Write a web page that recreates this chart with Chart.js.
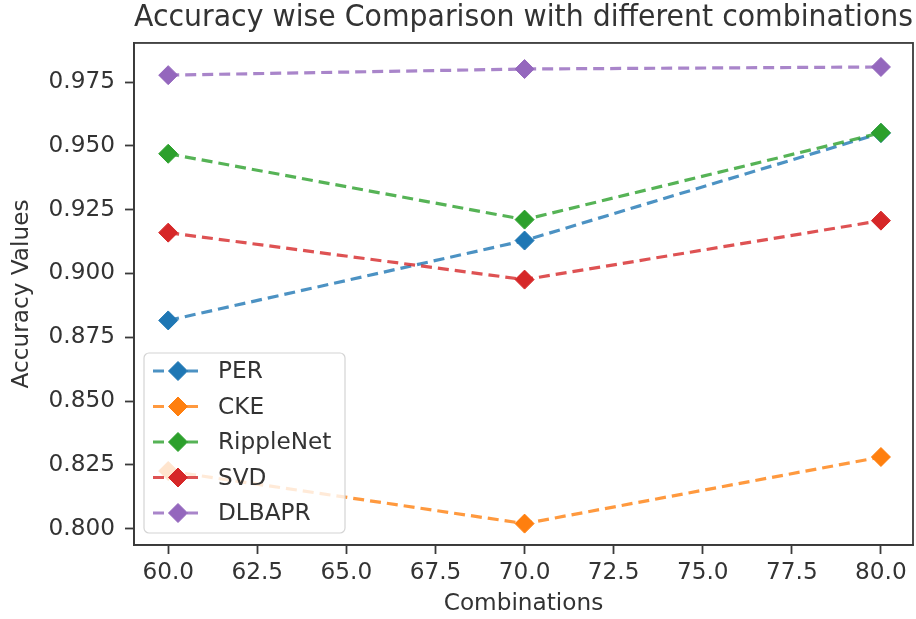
<!DOCTYPE html>
<html>
<head>
<meta charset="utf-8">
<script src="https://cdn.jsdelivr.net/npm/chart.js@4"></script>
<style>
  html, body { margin: 0; padding: 0; background: #ffffff; }
  #wrap { width: 916px; height: 619px; }
</style>
</head>
<body>
<div id="wrap"><canvas id="c" width="916" height="619"></canvas></div>
<script>
// ---- data ----
const titleText = 'Accuracy wise Comparison with different combinations';
const xAxisLabel = 'Combinations';
const yAxisLabel = 'Accuracy Values';
const xValues = [60, 70, 80];
const seriesNames = ['PER', 'CKE', 'RippleNet', 'SVD', 'DLBAPR'];
const perValues = [0.8816, 0.9129, 0.9550];
const ckeValues = [0.8226, 0.8020, 0.8281];
const rippleNetValues = [0.9469, 0.9211, 0.9551];
const svdValues = [0.9160, 0.8976, 0.9207];
const dlbaprValues = [0.9777, 0.9801, 0.9809];
const xTicks = [60, 62.5, 65, 67.5, 70, 72.5, 75, 77.5, 80];
const yTicks = [0.800, 0.825, 0.850, 0.875, 0.900, 0.925, 0.950, 0.975];

const seriesValues = [perValues, ckeValues, rippleNetValues, svdValues, dlbaprValues];
const seriesColors = ['#1f77b4', '#ff7f0e', '#2ca02c', '#d62728', '#9467bd'];

function withAlpha(hex, a) {
  const r = parseInt(hex.slice(1, 3), 16), g = parseInt(hex.slice(3, 5), 16), b = parseInt(hex.slice(5, 7), 16);
  return `rgba(${r},${g},${b},${a})`;
}

const FONT = "'DejaVu Sans', 'Liberation Sans', sans-serif";
const FS = 23.2;
const TEXT = '#333333';
const SPINE = '#3a3a3a';

const datasets = seriesNames.map((name, i) => ({
  label: name,
  data: xValues.map((x, j) => ({ x: x, y: seriesValues[i][j] })),
  borderColor: withAlpha(seriesColors[i], 0.8),
  backgroundColor: seriesColors[i],
  pointBackgroundColor: seriesColors[i],
  pointBorderColor: seriesColors[i],
  pointBorderWidth: 1,
  pointStyle: 'rectRot',
  pointRadius: 9.5,
  borderWidth: 3.2,
  borderDash: [11, 6],
  borderCapStyle: 'butt',
  tension: 0,
  fill: false,
  clip: 20,
  order: seriesNames.length - i
}));

const framePlugin = {
  id: 'frame',
  afterDraw(chart) {
    const { ctx, chartArea: a } = chart;
    ctx.save();
    ctx.strokeStyle = SPINE;
    ctx.lineWidth = 1.8;
    ctx.strokeRect(a.left, a.top, a.right - a.left, a.bottom - a.top);
    ctx.restore();
  }
};

const legendPlugin = {
  id: 'innerLegend',
  afterDatasetsDraw(chart) {
    const { ctx, chartArea: a } = chart;
    const rowH = 35.5;
    const w = 201, h = 180;
    const x0 = a.left + 10, y0 = a.bottom - 12 - h;
    ctx.save();
    ctx.beginPath();
    ctx.roundRect(x0, y0, w, h, 5);
    ctx.fillStyle = 'rgba(255,255,255,0.8)';
    ctx.fill();
    ctx.strokeStyle = '#d4d4d4';
    ctx.lineWidth = 1.2;
    ctx.stroke();
    chart.data.datasets.forEach((ds, i) => {
      const cy = y0 + 18 + i * rowH;
      ctx.save();
      ctx.strokeStyle = ds.borderColor;
      ctx.lineWidth = 3.2;
      ctx.setLineDash([11, 6]);
      ctx.beginPath();
      ctx.moveTo(x0 + 9, cy);
      ctx.lineTo(x0 + 57, cy);
      ctx.stroke();
      ctx.restore();
      ctx.fillStyle = ds.pointBackgroundColor;
      ctx.strokeStyle = ds.pointBorderColor;
      ctx.lineWidth = 1;
      ctx.beginPath();
      ctx.moveTo(x0 + 34 - 9.5, cy);
      ctx.lineTo(x0 + 34, cy - 9.5);
      ctx.lineTo(x0 + 34 + 9.5, cy);
      ctx.lineTo(x0 + 34, cy + 9.5);
      ctx.closePath();
      ctx.fill();
      ctx.stroke();
      ctx.fillStyle = TEXT;
      ctx.font = `${FS}px ${FONT}`;
      ctx.textBaseline = 'middle';
      ctx.textAlign = 'left';
      ctx.fillText(ds.label, x0 + 74, cy + 1);
    });
    ctx.restore();
  }
};

new Chart(document.getElementById('c'), {
  type: 'line',
  data: { datasets: datasets },
  plugins: [legendPlugin, framePlugin],
  options: {
    responsive: false,
    animation: false,
    events: [],
    layout: { autoPadding: false, padding: { left: 0, right: 3, top: 0, bottom: 0 } },
    plugins: {
      legend: { display: false },
      tooltip: { enabled: false },
      title: {
        display: true,
        fullSize: false,
        text: titleText,
        color: TEXT,
        font: { family: FONT, size: 29.3, weight: 'normal', lineHeight: 1.2 },
        padding: { top: 0.8, bottom: 7.0 }
      }
    },
    scales: {
      x: {
        type: 'linear',
        min: 59.04,
        max: 80.9,
        afterBuildTicks(scale) { scale.ticks = xTicks.map(v => ({ value: v })); },
        afterFit(scale) { scale.height = 74; scale.paddingLeft = 0; scale.paddingRight = 0; },
        ticks: {
          callback: v => Number(v).toFixed(1),
          color: TEXT,
          font: { family: FONT, size: FS, lineHeight: 1.2 },
          padding: 4.6,
          maxRotation: 0,
          autoSkip: false
        },
        grid: { drawOnChartArea: false, drawTicks: true, tickLength: 9, tickWidth: 1.8, tickColor: SPINE },
        border: { display: true, color: SPINE, width: 1.8 },
        title: {
          display: true, text: xAxisLabel, color: TEXT,
          font: { family: FONT, size: FS, lineHeight: 1.2 },
          padding: { top: 0, bottom: 1.1 }
        }
      },
      y: {
        type: 'linear',
        min: 0.79362,
        max: 0.99031,
        afterBuildTicks(scale) { scale.ticks = yTicks.map(v => ({ value: v })); },
        afterFit(scale) { scale.width = 134; scale.paddingTop = 0; scale.paddingBottom = 0; },
        ticks: {
          callback: v => Number(v).toFixed(3),
          color: TEXT,
          font: { family: FONT, size: FS, lineHeight: 1.2 },
          padding: 10,
          autoSkip: false
        },
        grid: { drawOnChartArea: false, drawTicks: true, tickLength: 9, tickWidth: 1.8, tickColor: SPINE },
        border: { display: true, color: SPINE, width: 1.8 },
        title: {
          display: true, text: yAxisLabel, color: TEXT,
          font: { family: FONT, size: FS, lineHeight: 1.2 },
          padding: { top: 7.7, bottom: 0 }
        }
      }
    }
  }
});
</script>
</body>
</html>
